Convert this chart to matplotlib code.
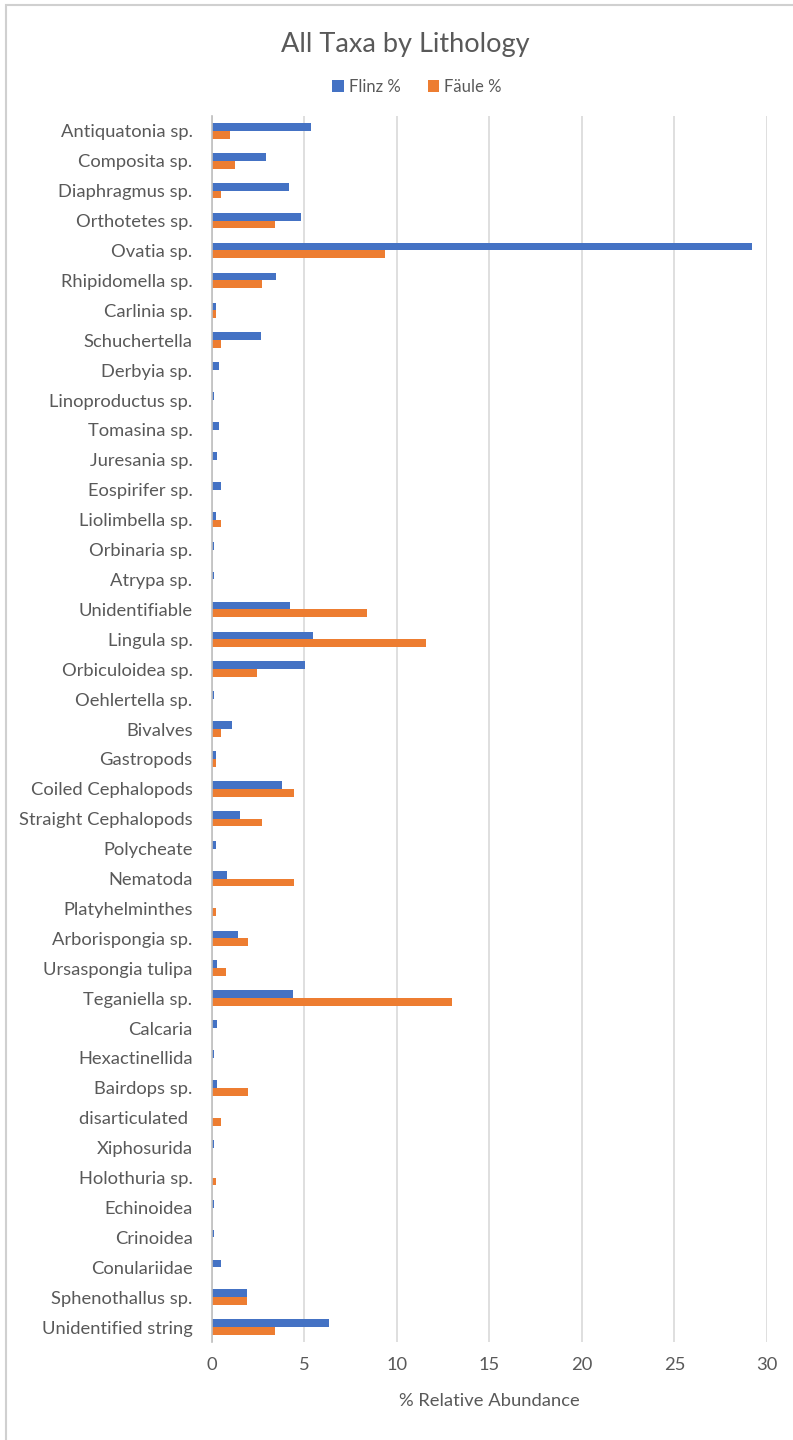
import matplotlib.pyplot as plt
import numpy as np
from matplotlib.patches import Rectangle

plt.rcParams["font.family"] = ["Lato", "DejaVu Sans"]

TEXT = "#595959"
BLUE = "#4472C4"
ORANGE = "#ED7D31"
GRID = "#D9D9D9"

taxa = [
    "Antiquatonia sp.", "Composita sp.", "Diaphragmus sp.", "Orthotetes sp.",
    "Ovatia sp.", "Rhipidomella sp.", "Carlinia sp.", "Schuchertella",
    "Derbyia sp.", "Linoproductus sp.", "Tomasina sp.", "Juresania sp.",
    "Eospirifer sp.", "Liolimbella sp.", "Orbinaria sp.", "Atrypa sp.",
    "Unidentifiable", "Lingula sp.", "Orbiculoidea sp.", "Oehlertella sp.",
    "Bivalves", "Gastropods", "Coiled Cephalopods", "Straight Cephalopods",
    "Polycheate", "Nematoda", "Platyhelminthes", "Arborispongia sp.",
    "Ursaspongia tulipa", "Teganiella sp.", "Calcaria", "Hexactinellida",
    "Bairdops sp.", "disarticulated ", "Xiphosurida", "Holothuria sp.",
    "Echinoidea", "Crinoidea", "Conulariidae", "Sphenothallus sp.",
    "Unidentified string",
]

flinz = [
    5.35, 2.93, 4.18, 4.80,
    29.2, 3.48, 0.22, 2.63,
    0.40, 0.10, 0.40, 0.27,
    0.50, 0.20, 0.10, 0.10,
    4.22, 5.44, 5.02, 0.10,
    1.08, 0.20, 3.79, 1.51,
    0.20, 0.81, 0.0, 1.42,
    0.25, 4.36, 0.25, 0.10,
    0.25, 0.0, 0.10, 0.0,
    0.10, 0.10, 0.48, 1.92,
    6.35,
]

faule = [
    0.96, 1.24, 0.50, 3.43,
    9.35, 2.69, 0.22, 0.50,
    0.0, 0.0, 0.0, 0.0,
    0.0, 0.50, 0.0, 0.0,
    8.37, 11.55, 2.46, 0.0,
    0.50, 0.20, 4.41, 2.69,
    0.0, 4.41, 0.20, 1.93,
    0.74, 13.0, 0.0, 0.0,
    1.93, 0.50, 0.0, 0.20,
    0.0, 0.0, 0.0, 1.92,
    3.42,
]

xticks = [0, 5, 10, 15, 20, 25, 30]

fig = plt.figure(figsize=(7.93, 14.4), dpi=100)
ax = fig.add_axes([0.2673, 0.068, 0.6996, 0.8515])

y = np.arange(len(taxa))
h = 0.26
ax.barh(y - h / 2, flinz, h, color=BLUE, label="Flinz %")
ax.barh(y + h / 2, faule, h, color=ORANGE, label="Fäule %")

ax.set_ylim(len(taxa) - 0.5, -0.5)
ax.set_xlim(0, 30)
ax.set_yticks(y)
ax.set_yticklabels(taxa, fontsize=13.2, color=TEXT)
ax.set_xticks(xticks)
ax.set_xticklabels([str(t) for t in xticks], fontsize=13.2, color=TEXT)
ax.tick_params(length=0, pad=14)
ax.tick_params(axis="x", pad=11)
ax.grid(axis="x", color=GRID, linewidth=1.2)
ax.set_axisbelow(True)
for s in ["top", "right", "bottom"]:
    ax.spines[s].set_visible(False)
ax.spines["left"].set_color("#BFBFBF")
ax.spines["left"].set_linewidth(1.2)

ax.set_xlabel("% Relative Abundance", fontsize=13.2, color=TEXT, labelpad=14)

fig.text(0.511, 0.969, "All Taxa by Lithology", ha="center", va="center",
         fontsize=19.5, color=TEXT)
fig.legend(loc="center", bbox_to_anchor=(0.526, 0.9395), ncol=2, frameon=False,
           fontsize=12, handlelength=0.7, handleheight=0.7, handletextpad=0.3,
           columnspacing=1.6, labelcolor=TEXT)

# outer chart frame
fig.patches.append(Rectangle((6 / 793, -0.05), 1.2, 1.05 - 5 / 1440,
                             transform=fig.transFigure, fill=False,
                             edgecolor="#D0D0D0", linewidth=1.5))

fig.savefig("out.png", dpi=100, facecolor="white")
